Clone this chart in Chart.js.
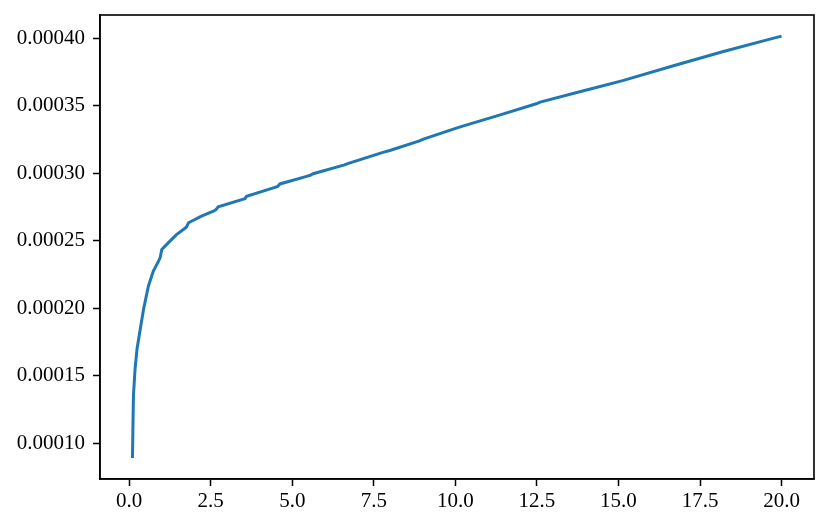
<!DOCTYPE html>
<html>
<head>
<meta charset="utf-8">
<script src="https://cdn.jsdelivr.net/npm/chart.js@4"></script>
<style>
    body { margin: 0; background: #fff; }
    .chart-wrap { width: 830px; height: 529px; }
</style>
</head>
<body>
<div class="chart-wrap"><canvas id="curveChart"></canvas></div>
<script>
// values
const xValues = [0.10, 0.13, 0.18, 0.24, 0.34, 0.44, 0.59, 0.74, 0.90, 0.95, 1.00, 1.15, 1.25, 1.45, 1.66, 1.75,
    1.82, 2.20, 2.58, 2.66, 2.73, 3.45, 3.55, 3.60, 4.47, 4.55, 4.62, 5.44, 5.55, 5.64, 6.60, 6.70,
    7.78, 7.99, 8.90, 9.00, 10.03, 10.20, 11.40, 12.48, 12.60, 13.90, 14.11, 15.13, 16.66, 18.19, 19.50, 20.00];
const yValues = [0.0000890, 0.0001352, 0.0001549, 0.0001697, 0.0001845, 0.0001992, 0.0002165, 0.0002275,
    0.0002349, 0.0002375, 0.0002436, 0.0002473, 0.0002497, 0.0002545, 0.0002583, 0.0002600,
    0.0002633, 0.0002680, 0.0002719, 0.0002730, 0.0002751, 0.0002805, 0.0002812, 0.0002830,
    0.0002896, 0.0002902, 0.0002921, 0.0002977, 0.0002985, 0.0002997, 0.0003062, 0.0003072,
    0.0003155, 0.0003169, 0.0003240, 0.0003252, 0.0003335, 0.0003348, 0.0003435, 0.0003515,
    0.0003528, 0.0003610, 0.0003623, 0.0003687, 0.0003795, 0.0003901, 0.0003985, 0.0004017];
const xTickStep = 2.5;
const yTickStep = 0.00005;

const points = xValues.map((x, i) => ({ x: x, y: yValues[i] }));

// matplotlib-like 5% margins
const xPad = (xValues[xValues.length - 1] - xValues[0]) * 0.05;
const yPad = (Math.max(...yValues) - Math.min(...yValues)) * 0.05;

const tickFont = { family: "'Liberation Serif', 'DejaVu Serif', serif", size: 21 };

// full box around the plot area
const frameBox = {
    id: 'frameBox',
    afterDraw(chart) {
        const { ctx, chartArea: a } = chart;
        ctx.save();
        ctx.strokeStyle = '#000';
        ctx.lineWidth = 1.6;
        ctx.strokeRect(a.left, a.top, a.right - a.left, a.bottom - a.top);
        ctx.restore();
    }
};

new Chart(document.getElementById('curveChart').getContext('2d'), {
    type: 'line',
    data: {
        datasets: [{
            data: points,
            borderColor: '#1f77b4',
            borderWidth: 3,
            pointRadius: 0,
            tension: 0,
            fill: false
        }]
    },
    options: {
        responsive: true,
        maintainAspectRatio: false,
        animation: false,
        layout: { padding: { left: 0, right: 16, top: 15, bottom: 0 } },
        plugins: { legend: { display: false }, tooltip: { enabled: false } },
        scales: {
            x: {
                type: 'linear',
                min: xValues[0] - xPad,
                max: xValues[xValues.length - 1] + xPad,
                border: { color: '#000', width: 1.6 },
                grid: { drawOnChartArea: false, drawTicks: true, tickLength: 7, tickColor: '#000', tickWidth: 1.5 },
                ticks: {
                    stepSize: xTickStep,
                    includeBounds: false,
                    maxRotation: 0,
                    padding: 3,
                    color: '#000',
                    font: tickFont,
                    callback: v => Number(v).toFixed(1)
                },
                afterFit: s => { s.height = 50; s.paddingLeft = 0; s.paddingRight = 0; }
            },
            y: {
                type: 'linear',
                min: Math.min(...yValues) - yPad,
                max: Math.max(...yValues) + yPad,
                border: { color: '#000', width: 1.6 },
                grid: { drawOnChartArea: false, drawTicks: true, tickLength: 7, tickColor: '#000', tickWidth: 1.5 },
                ticks: {
                    stepSize: yTickStep,
                    includeBounds: false,
                    padding: 8,
                    color: '#000',
                    font: tickFont,
                    callback: v => Number(v).toFixed(5)
                },
                afterFit: s => { s.width = 100; s.paddingTop = 0; s.paddingBottom = 0; }
            }
        }
    },
    plugins: [frameBox]
});
</script>
</body>
</html>
